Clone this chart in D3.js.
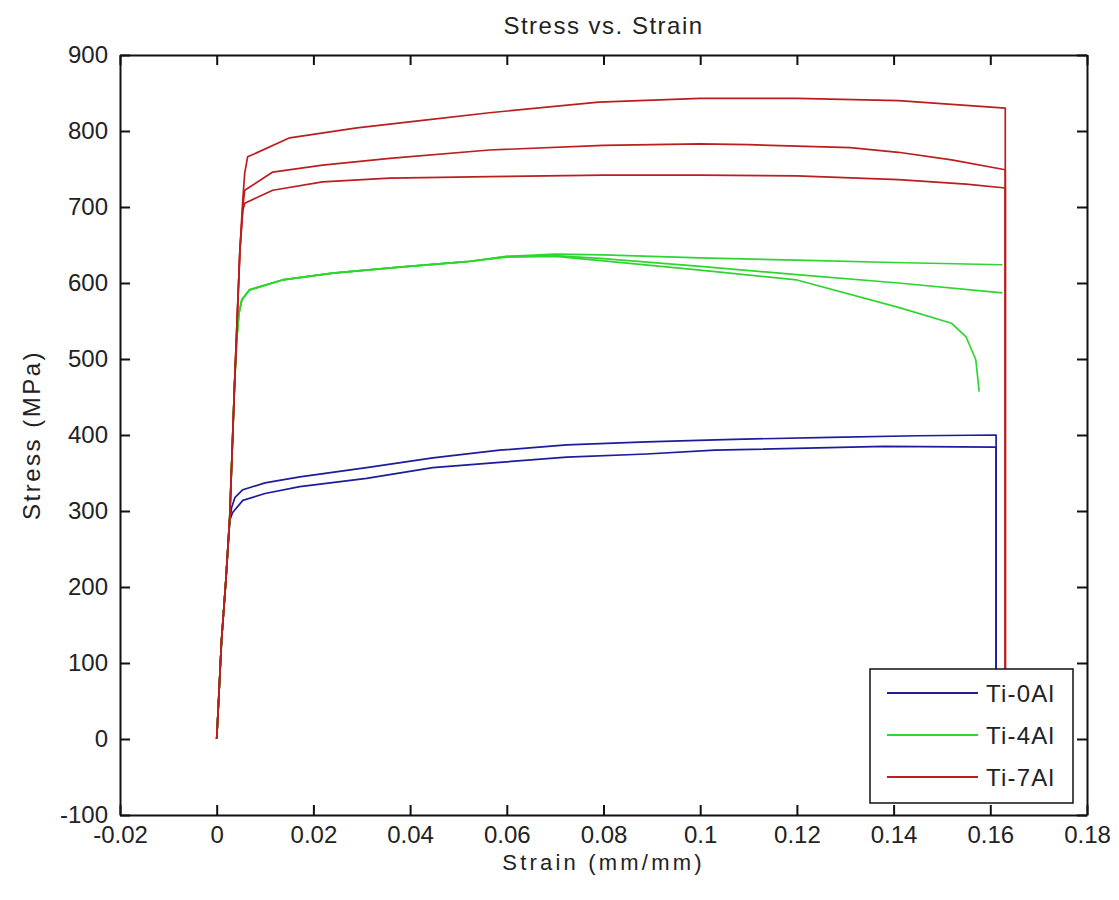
<!DOCTYPE html>
<html>
<head>
<meta charset="utf-8">
<script src="https://cdn.jsdelivr.net/npm/d3@7"></script>
<style>
  body { margin: 0; background: #fff; }
  svg { display: block; }
  text { font-family: "Liberation Sans", Arial, sans-serif; fill: #222; }
</style>
</head>
<body>
<svg id="chart" width="1119" height="900"></svg>
<script>
// ---- data (strain mm/mm, stress MPa) ----
const xTicks = [-0.02, 0, 0.02, 0.04, 0.06, 0.08, 0.1, 0.12, 0.14, 0.16, 0.18];
const yTicks = [-100, 0, 100, 200, 300, 400, 500, 600, 700, 800, 900];
const seriesNames = ["Ti-0Al", "Ti-4Al", "Ti-7Al"];
const seriesColors = ["#1c1c9c", "#2fd52f", "#bb1e1e"];

const ti0Al_1 = [[0,0],[0.0004,51],[0.001,130],[0.0019,209],[0.0027,288],[0.0031,305],[0.0038,318],[0.0054,328],[0.01,337],[0.0172,345],[0.031,357],[0.0447,370],[0.0585,380],[0.0724,387],[0.0889,391],[0.105,394],[0.127,397],[0.145,399],[0.1612,400],[0.1612,0]];
const ti0Al_2 = [[0,0],[0.0004,51],[0.001,130],[0.0019,209],[0.0027,288],[0.0033,298],[0.0054,314],[0.01,323],[0.0172,332],[0.031,343],[0.0447,357],[0.0585,364],[0.0724,371],[0.0889,375],[0.103,380],[0.138,385],[0.1612,384],[0.1612,0]];

const ti4Al_1 = [[0,0],[0.0004,51],[0.001,130],[0.0019,209],[0.0027,292],[0.0037,468],[0.0042,530],[0.0046,560],[0.0052,578],[0.0068,591],[0.0136,604],[0.024,613],[0.0378,621],[0.0517,628],[0.06,635],[0.07,638],[0.08,637],[0.1,633],[0.12,630],[0.14,627],[0.1625,624]];
const ti4Al_2 = [[0,0],[0.0004,51],[0.001,130],[0.0019,209],[0.0027,292],[0.0037,468],[0.0042,530],[0.0046,560],[0.0052,578],[0.0068,591],[0.0136,604],[0.024,613],[0.0378,621],[0.0517,628],[0.06,635],[0.07,636],[0.08,632],[0.1,622],[0.12,611],[0.141,600],[0.1625,587]];
const ti4Al_3 = [[0,0],[0.0004,51],[0.001,130],[0.0019,209],[0.0027,292],[0.0037,468],[0.0042,530],[0.0046,560],[0.0052,578],[0.0068,591],[0.0136,604],[0.024,613],[0.0378,621],[0.0517,628],[0.06,634],[0.07,635],[0.08,629],[0.1,617],[0.12,604],[0.141,568],[0.152,547],[0.155,529],[0.157,499],[0.1577,457]];

const ti7Al_1 = [[0,0],[0.0004,51],[0.001,130],[0.0019,209],[0.0027,292],[0.0037,468],[0.0048,643],[0.0054,710],[0.0058,745],[0.0064,766],[0.0151,791],[0.029,804],[0.0426,814],[0.0564,824],[0.079,838],[0.1,843],[0.12,843],[0.141,840],[0.1631,830],[0.1631,0]];
const ti7Al_2 = [[0,0],[0.0004,51],[0.001,130],[0.0019,209],[0.0027,292],[0.0037,468],[0.0048,643],[0.0054,700],[0.0058,722],[0.0116,746],[0.0219,755],[0.0358,764],[0.0564,775],[0.08,781],[0.1,783],[0.11,782],[0.131,778],[0.141,772],[0.152,762],[0.1631,749],[0.1631,0]];
const ti7Al_3 = [[0,0],[0.0004,51],[0.001,130],[0.0019,209],[0.0027,292],[0.0037,468],[0.0048,643],[0.0054,695],[0.0058,705],[0.0116,722],[0.0219,733],[0.0358,738],[0.0564,740],[0.08,742],[0.1,742],[0.12,741],[0.141,736],[0.155,730],[0.1631,725],[0.1631,0]];

const groups = [
  { name: seriesNames[0], color: seriesColors[0], curves: [ti0Al_1, ti0Al_2] },
  { name: seriesNames[1], color: seriesColors[1], curves: [ti4Al_1, ti4Al_2, ti4Al_3] },
  { name: seriesNames[2], color: seriesColors[2], curves: [ti7Al_1, ti7Al_2, ti7Al_3] }
];

// ---- layout ----
const L = 120, R = 1087, T = 55, B = 815;
const svg = d3.select("#chart");
const x = d3.scaleLinear().domain([-0.02, 0.18]).range([L, R]);
const y = d3.scaleLinear().domain([-100, 900]).range([B, T]);

const plain = d => String(d);

// clip
svg.append("clipPath").attr("id", "clip").append("rect")
  .attr("x", L).attr("y", T).attr("width", R - L).attr("height", B - T);

// curves
const lineLin = d3.line().x(d => x(d[0])).y(d => y(d[1]));
const plot = svg.append("g").attr("clip-path", "url(#clip)");
groups.forEach(g => {
  g.curves.forEach(c => {
    plot.append("path").attr("d", lineLin(c))
      .attr("fill", "none").attr("stroke", g.color)
      .attr("stroke-width", 1.7).attr("stroke-linejoin", "round");
  });
});

// axes (box with inward ticks on all sides)
const tl = 10;
const axB = svg.append("g").attr("transform", `translate(0,${B})`)
  .call(d3.axisBottom(x).tickValues(xTicks).tickSizeInner(-tl).tickSizeOuter(0).tickPadding(11).tickFormat(plain));
const axT = svg.append("g").attr("transform", `translate(0,${T})`)
  .call(d3.axisTop(x).tickValues(xTicks).tickSizeInner(-tl).tickSizeOuter(0).tickFormat(""));
const axL = svg.append("g").attr("transform", `translate(${L},0)`)
  .call(d3.axisLeft(y).tickValues(yTicks).tickSizeInner(-tl).tickSizeOuter(0).tickPadding(12).tickFormat(plain));
const axR = svg.append("g").attr("transform", `translate(${R},0)`)
  .call(d3.axisRight(y).tickValues(yTicks).tickSizeInner(-tl).tickSizeOuter(0).tickFormat(""));

[axB, axT, axL, axR].forEach(a => {
  a.select(".domain").attr("stroke", "#111").attr("stroke-width", 2);
  a.selectAll(".tick line").attr("stroke", "#111").attr("stroke-width", 2);
  a.selectAll(".tick text").attr("font-size", 24).attr("fill", "#222")
   .attr("font-family", "'Liberation Sans', Arial, sans-serif");
});
axL.selectAll(".tick text").attr("dy", "0.3em");

// titles
svg.append("text").attr("x", (L + R) / 2).attr("y", 34)
  .attr("text-anchor", "middle").attr("font-size", 24).attr("letter-spacing", 1.5).text("Stress vs. Strain");
svg.append("text").attr("x", (L + R) / 2).attr("y", 870)
  .attr("text-anchor", "middle").attr("font-size", 22).attr("letter-spacing", 3.2).text("Strain (mm/mm)");
svg.append("text").attr("transform", `translate(40,${(T + B) / 2}) rotate(-90)`)
  .attr("text-anchor", "middle").attr("font-size", 24).attr("letter-spacing", 2.5).text("Stress (MPa)");

// legend
const lg = svg.append("g");
lg.append("rect").attr("x", 870).attr("y", 669).attr("width", 203).attr("height", 134)
  .attr("fill", "#fff").attr("stroke", "#111").attr("stroke-width", 1.5);
const rowY = [693, 735, 777];
groups.forEach((g, i) => {
  lg.append("line").attr("x1", 887).attr("x2", 978).attr("y1", rowY[i]).attr("y2", rowY[i])
    .attr("stroke", g.color).attr("stroke-width", 1.8);
  lg.append("text").attr("x", 986).attr("y", rowY[i]).attr("dy", "0.36em")
    .attr("font-size", 24).attr("letter-spacing", 1.2).text(g.name);
});
</script>
</body>
</html>
